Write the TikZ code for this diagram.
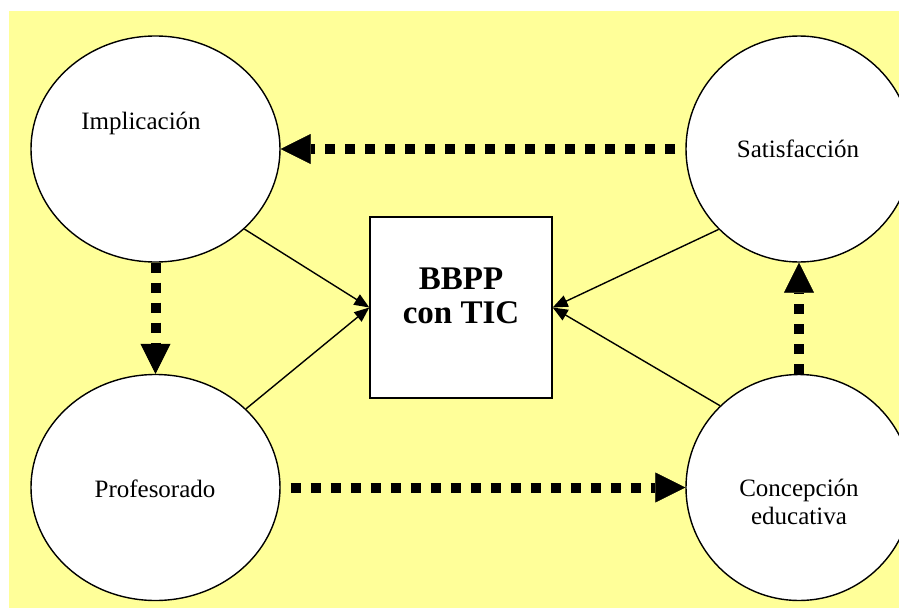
\documentclass[tikz,border=0pt]{standalone}
\usepackage{fontspec}
\setmainfont{Liberation Serif}
\usetikzlibrary{shapes.geometric,arrows.meta}
\definecolor{bgyellow}{HTML}{FFFF99}

\begin{document}
\begin{tikzpicture}[%
x=1pt, y=-1pt,
oval/.style={draw, ellipse, fill=white, line width=1.4pt, inner sep=0pt, minimum width=249pt, minimum height=226pt},
ring/.style={draw, circle, fill=white, line width=1.4pt, inner sep=0pt, minimum size=226pt},
ticbox/.style={draw, rectangle, fill=white, line width=1.4pt, inner sep=0pt, minimum width=182pt, minimum height=181pt},
lbl/.style={font=\fontsize{25}{28}\selectfont, align=center, inner sep=0pt},
ticlbl/.style={font=\fontsize{33}{34}\selectfont\bfseries, align=center, inner sep=0pt},
link/.style={line width=1.4pt, -{Triangle[length=15pt,width=12pt]}},
flow/.style={line width=10pt, dash pattern=on 10pt off 10pt, -{Triangle[length=30pt,width=30pt,line width=0.5pt]}},
]
\useasboundingbox (0,0) rectangle (899,608);
\clip (0,0) rectangle (899,608);
%% background;
\fill [bgyellow] (9,11) rectangle (899,608);
%% circles;
\node[oval] (imp) at (155.5,149) {};
\node[oval] (prof) at (155.5,487.5) {};
\node[ring] (sat) at (799,149) {};
\node[ring] (con) at (799,487.5) {};
%% box;
\node[ticbox] (bbpp) at (461,307.5) {};
%% labels;
\node[lbl, anchor=base] (imptxt) at (141,129) {Implicación};
\node[lbl, anchor=base] (sattxt) at (798,157) {Satisfacción};
\node[lbl, anchor=base] (proftxt) at (155,497) {Profesorado};
\node[lbl] (context) at (799,502) {Concepción\\educativa};
\node[ticlbl] (bbpptxt) at (461,296) {BBPP\\con TIC};
%% links;
\draw[link] (imp.-42.6) -- (bbpp.west);
\draw[link] (prof.41.6) -- (bbpp.west);
\draw[link] (sat.-135.4) -- (bbpp.east);
\draw[link] (con.134.5) -- (bbpp.east);
%% flows;
\draw[flow] (imp) -- (prof);
\draw[flow, dash phase=10pt] (sat) -- (imp);
\draw[flow, dash phase=10pt] (prof) -- (con);
\draw[flow] (con) -- (sat);
\end{tikzpicture}
\end{document}
